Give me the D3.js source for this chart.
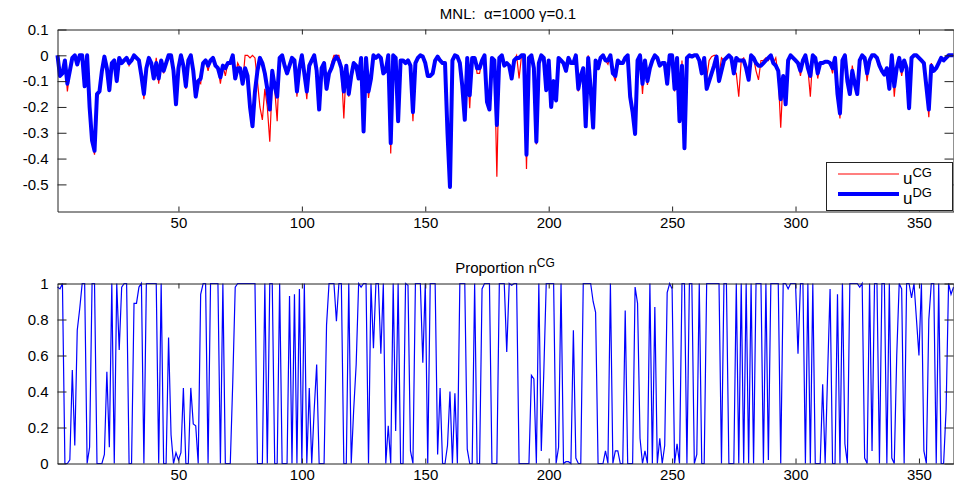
<!DOCTYPE html>
<html>
<head>
<meta charset="utf-8">
<script src="https://cdn.jsdelivr.net/npm/d3@7"></script>
<style>
body { margin: 0; background: #fff; }
text { font-family: "Liberation Sans", Arial, sans-serif; white-space: pre; }
</style>
</head>
<body>
<script>
// u^CG (red, thin)
var uCG = [
  0, -0.08, -0.07, -0.02, -0.14, -0.06, -0.01, 0, -0.035, 0,
  0, -0.12, 0, -0.2, -0.33, -0.385, -0.17, -0.14, -0.06, -0.005,
  -0.05, -0.135, -0.03, -0.02, -0.1, -0.01, -0.03, -0.02, -0.01, -0.04,
  -0.02, 0, -0.01, -0.02, -0.08, -0.17, -0.05, -0.01, -0.03, -0.09,
  -0.01, -0.11, -0.02, -0.07, -0.03, 0, 0, -0.06, -0.19, -0.05,
  0, -0.04, -0.13, -0.02, 0, -0.06, -0.16, -0.1, -0.11, -0.03,
  -0.02, -0.06, -0.02, -0.01, -0.04, -0.05, -0.11, -0.04, -0.08, -0.03,
  -0.03, 0, -0.09, -0.03, -0.05, -0.11, 0, 0, -0.01, 0,
  -0.01, -0.1, -0.2, -0.25, -0.13, -0.2, -0.335, -0.1, -0.13, -0.255,
  -0.01, 0, -0.04, -0.07, -0.04, -0.01, -0.02, -0.16, -0.05, 0,
  -0.07, -0.17, -0.04, -0.02, 0, -0.06, -0.215, -0.05, -0.03, -0.13,
  -0.07, -0.03, 0, 0, 0, -0.05, -0.245, -0.04, -0.16, -0.08,
  -0.03, -0.04, -0.09, -0.01, -0.295, -0.01, -0.165, -0.09, 0, -0.01,
  0, -0.01, -0.07, -0.06, 0, -0.38, 0, -0.01, -0.255, -0.02,
  -0.02, -0.03, -0.02, -0.04, -0.255, -0.03, -0.01, 0, -0.005, -0.03,
  -0.08, -0.08, -0.07, -0.02, -0.005, -0.02, -0.03, -0.03, -0.3, -0.51,
  -0.02, 0, -0.005, -0.03, -0.12, -0.25, -0.01, -0.205, -0.01, -0.01,
  -0.07, -0.07, -0.02, 0, -0.18, -0.21, -0.01, -0.02, -0.47, -0.01,
  0, -0.04, -0.03, -0.04, -0.09, -0.02, 0, -0.09, 0, 0,
  -0.44, -0.01, 0, -0.05, -0.345, -0.03, 0, -0.01, -0.135, -0.02,
  -0.2, -0.1, -0.18, -0.01, -0.02, -0.03, -0.065, -0.01, -0.03, -0.03,
  0, -0.14, -0.08, -0.05, -0.275, 0, -0.13, -0.28, -0.02, -0.05,
  -0.01, 0, -0.02, -0.035, 0, -0.07, -0.1, -0.02, -0.03, -0.03,
  -0.01, 0, -0.16, -0.22, -0.305, -0.02, 0, -0.15, -0.02, -0.115,
  -0.05, -0.02, 0, -0.01, -0.04, -0.03, -0.03, -0.11, 0, 0,
  -0.14, -0.01, -0.26, -0.02, -0.36, -0.01, 0, -0.005, 0, 0,
  -0.02, -0.07, -0.01, -0.09, -0.02, -0.005, 0, 0, -0.08, -0.01,
  -0.02, -0.01, 0, -0.01, -0.06, -0.07, -0.16, -0.02, -0.01, -0.05,
  -0.095, 0, -0.01, -0.06, -0.095, -0.02, -0.02, -0.01, -0.02, 0,
  -0.03, -0.01, -0.08, -0.28, -0.08, -0.195, -0.02, 0, -0.01, -0.02,
  -0.03, -0.08, -0.02, 0, -0.05, -0.16, 0, -0.01, -0.09, -0.03,
  -0.03, -0.025, -0.025, -0.03, -0.07, -0.01, -0.15, -0.245, -0.02, 0,
  -0.1, -0.15, -0.04, -0.11, -0.15, -0.02, 0, -0.01, -0.1, -0.02,
  0, 0, -0.01, -0.04, -0.06, -0.075, -0.05, -0.13, 0, -0.16,
  -0.05, -0.01, -0.08, -0.02, -0.05, -0.205, -0.01, 0, 0, -0.01,
  -0.02, -0.03, -0.12, -0.24, -0.03, -0.06, -0.05, -0.03, -0.01, -0.02,
  -0.01, 0, 0, 0
];

// u^DG (blue, thick)
var uDG = [
  0, -0.08, -0.07, -0.02, -0.11, -0.06, -0.01, 0, -0.035, 0,
  0, -0.12, 0, -0.2, -0.33, -0.37, -0.15, -0.14, -0.06, -0.005,
  -0.05, -0.135, -0.03, -0.02, -0.1, -0.01, -0.03, -0.02, -0.01, -0.03,
  -0.02, 0, -0.01, -0.02, -0.08, -0.15, -0.05, -0.01, -0.03, -0.09,
  -0.03, -0.09, -0.02, -0.06, -0.03, 0, 0, -0.06, -0.19, -0.05,
  0, -0.04, -0.12, -0.02, 0, -0.06, -0.16, -0.1, -0.09, -0.03,
  -0.02, -0.04, -0.02, -0.01, -0.04, -0.05, -0.085, -0.04, -0.05, -0.03,
  -0.03, 0, -0.09, -0.05, -0.05, -0.11, -0.05, -0.08, -0.2, -0.275,
  -0.14, -0.06, -0.01, -0.03, -0.07, -0.13, -0.21, -0.06, -0.12, -0.16,
  -0.01, 0, -0.04, -0.07, -0.04, -0.01, -0.02, -0.14, -0.05, 0,
  -0.07, -0.14, -0.04, -0.02, 0, -0.06, -0.21, -0.05, -0.03, -0.13,
  -0.07, -0.05, -0.02, -0.005, -0.02, -0.05, -0.14, -0.04, -0.15, -0.08,
  -0.03, -0.04, -0.09, -0.01, -0.295, -0.01, -0.14, -0.09, 0, -0.01,
  0, -0.01, -0.07, -0.06, 0, -0.34, 0, -0.01, -0.255, -0.02,
  -0.02, -0.03, -0.02, -0.04, -0.22, -0.03, -0.01, 0, -0.005, -0.03,
  -0.08, -0.08, -0.07, -0.02, -0.005, -0.02, -0.03, -0.03, -0.3, -0.51,
  -0.02, 0, -0.005, -0.03, -0.12, -0.25, -0.01, -0.155, -0.01, -0.01,
  -0.05, -0.05, -0.02, 0, -0.18, -0.21, -0.01, -0.02, -0.27, -0.01,
  0, -0.04, -0.03, -0.04, -0.09, -0.02, -0.01, -0.01, 0, 0,
  -0.385, -0.01, 0, -0.05, -0.335, -0.03, 0, -0.01, -0.135, -0.02,
  -0.2, -0.1, -0.175, -0.01, -0.02, -0.03, -0.06, -0.01, -0.03, -0.03,
  0, -0.13, -0.08, -0.05, -0.275, -0.01, -0.13, -0.28, -0.02, -0.05,
  -0.01, 0, -0.02, -0.02, 0, -0.07, -0.08, -0.02, -0.03, -0.03,
  -0.01, 0, -0.16, -0.22, -0.305, -0.02, 0, -0.11, -0.02, -0.1,
  -0.05, -0.02, 0, -0.01, -0.04, -0.03, -0.03, -0.11, 0, 0,
  -0.13, -0.01, -0.255, -0.04, -0.36, -0.01, 0, -0.005, 0, 0,
  -0.02, -0.07, -0.01, -0.13, -0.1, -0.07, -0.04, -0.005, -0.1, -0.06,
  -0.02, -0.01, 0, -0.01, -0.07, -0.01, -0.02, -0.02, -0.02, -0.05,
  -0.095, 0, -0.01, -0.03, -0.04, -0.04, -0.03, -0.02, -0.01, 0,
  -0.03, -0.04, -0.06, -0.17, -0.08, -0.19, -0.02, 0, -0.01, -0.02,
  -0.03, -0.06, -0.02, 0, -0.05, -0.08, 0, -0.01, -0.07, -0.03,
  -0.03, -0.025, -0.025, -0.03, -0.05, -0.01, -0.15, -0.225, -0.02, 0,
  -0.1, -0.15, -0.06, -0.11, -0.15, -0.02, 0, -0.01, -0.07, -0.02,
  0, 0, -0.01, -0.04, -0.06, -0.075, -0.05, -0.13, 0, -0.12,
  -0.05, -0.01, -0.06, -0.02, -0.05, -0.205, -0.01, 0, 0, -0.01,
  -0.02, -0.03, -0.12, -0.21, -0.04, -0.06, -0.05, -0.03, -0.01, -0.02,
  -0.01, 0, 0, 0
];

// proportion n^CG (bottom panel)
var propCG = [
  0.98, 0.97, 1, 0, 0, 0.02, 0.52, 0.1, 0.74, 0.86,
  1, 1, 0, 0.09, 1, 1, 0, 0, 0, 0.05,
  0.51, 0.09, 1, 0, 1, 0.63, 0.98, 1, 1, 0,
  0, 0.89, 0.89, 0.98, 1, 0, 1, 1, 1, 1,
  1, 0, 1, 0, 0, 0.7, 0.16, 0, 0.06, 0.02,
  0.06, 0.42, 0, 0, 0.42, 0.22, 0.21, 0, 0.94, 1,
  1, 0, 1, 1, 1, 1, 0, 1, 0, 0,
  0, 0.45, 0.98, 1, 1, 1, 1, 1, 1, 1,
  1, 0, 0, 0, 1, 0, 1, 1, 0, 0,
  1, 0, 0, 0, 0.93, 0, 0.94, 0, 0.97, 0,
  1, 0, 0.42, 0, 0.3, 0.55, 0, 0, 0, 0.77,
  1, 1, 1, 0.79, 1, 1, 0, 0, 1, 0,
  0.3, 0.55, 1, 0.98, 1, 1, 0, 1, 0.64, 1,
  1, 0.61, 1, 0, 0.21, 0, 1, 0.18, 1, 0,
  0, 1, 0.99, 0.07, 0, 1, 1, 1, 0.56, 1,
  0, 1, 1, 1, 0.05, 0.42, 0, 0, 0.1, 0.4,
  0, 0.39, 0, 1, 1, 1, 0.08, 0, 0, 1,
  0, 0, 0.97, 1, 1, 1, 0, 0, 0, 1,
  1, 1, 0.62, 1, 0.99, 1, 1, 0, 0, 0,
  0, 0, 0.49, 0.47, 0, 1, 0.07, 0.5, 1, 1,
  1, 1, 0, 0.09, 1, 0, 0.01, 0.01, 0, 0.74,
  0.03, 0, 0, 1, 1, 1, 1, 0.9, 0.84, 0,
  0, 0, 0.07, 0, 1, 0, 0.07, 0.07, 0, 0,
  0.85, 0, 0, 0, 0.98, 0.89, 0.14, 0, 0.07, 0,
  1, 0, 0.87, 0, 0.14, 0, 0.1, 0.95, 1, 0.97,
  0, 0.11, 0, 1, 1, 0, 1, 1, 0, 0.05,
  1, 0, 0, 1, 1, 1, 1, 1, 1, 0,
  1, 1, 0, 0, 0, 1, 0, 1, 0, 1,
  0, 1, 0, 1, 1, 1, 0, 1, 0.02, 1,
  1, 1, 1, 0, 1, 1, 0.97, 1, 1, 1,
  0.61, 1, 1, 0, 1, 0, 1, 0, 0, 0,
  0.44, 0, 0.5, 0.97, 0, 0, 0.94, 0, 1, 0.11,
  0, 1, 1, 1, 1, 0.98, 1, 0.03, 0, 1,
  0.07, 1, 1, 0, 1, 1, 0, 1, 0.03, 0,
  0.6, 1, 0.97, 0, 1, 1, 0.92, 1, 0.8, 0.6,
  1, 0.07, 0, 0.8, 1, 1, 0, 1, 0, 0,
  0.3, 1, 0.94, 0.98
];

var xTicks = [50, 100, 150, 200, 250, 300, 350];
var topYTicks = [0.1, 0, -0.1, -0.2, -0.3, -0.4, -0.5];
var botYTicks = [0, 0.2, 0.4, 0.6, 0.8, 1];

var width = 954, height = 487;

var svg = d3.select("body").append("svg")
    .attr("width", width)
    .attr("height", height)
    .style("background", "#fff");

var x = d3.scaleLinear().domain([1, 364]).range([57.5, 953.5]);
var yTop = d3.scaleLinear().domain([-0.605, 0.1]).range([211.5, 29.5]);
var yBot = d3.scaleLinear().domain([0, 1]).range([463.5, 283.5]);

var fmt = function(d) { return d === 0 ? "0" : String(+d.toFixed(1)); };

//draw box, ticks and labels for one panel
function drawAxes(y, yTicks) {
    var r = y.range();
    var g = svg.append("g");

    g.append("g")
        .attr("transform", "translate(0," + r[0] + ")")
        .call(d3.axisBottom(x).tickValues(xTicks).tickSizeInner(-5).tickSizeOuter(0).tickPadding(6));
    g.append("g")
        .attr("transform", "translate(0," + r[1] + ")")
        .call(d3.axisTop(x).tickValues(xTicks).tickSizeInner(-5).tickSizeOuter(0).tickFormat(""));
    g.append("g")
        .attr("transform", "translate(" + x.range()[0] + ",0)")
        .call(d3.axisLeft(y).tickValues(yTicks).tickSizeInner(-9).tickSizeOuter(0).tickPadding(9).tickFormat(fmt));
    g.append("g")
        .attr("transform", "translate(" + x.range()[1] + ",0)")
        .call(d3.axisRight(y).tickValues(yTicks).tickSizeInner(-9).tickSizeOuter(0).tickFormat(""));

    g.selectAll(".domain").attr("stroke", "#222");
    g.selectAll(".tick line").attr("stroke", "#222");
    g.selectAll(".tick text").attr("font-size", 15).attr("fill", "#000")
        .attr("font-family", "Liberation Sans, Arial, sans-serif");
    return g;
}

// top panel
var lineTop = d3.line()
    .x(function(d, i) { return x(i + 1); })
    .y(function(d) { return yTop(d); });

svg.append("path")
    .datum(uCG)
    .attr("d", lineTop)
    .attr("fill", "none")
    .attr("stroke", "#ff0000")
    .attr("stroke-width", 1.2);

svg.append("path")
    .datum(uDG)
    .attr("d", lineTop)
    .attr("fill", "none")
    .attr("stroke", "#0000ff")
    .attr("stroke-width", 4)
    .attr("stroke-linejoin", "round");

drawAxes(yTop, topYTicks);

svg.append("text")
    .attr("x", 508).attr("y", 19)
    .attr("text-anchor", "middle")
    .attr("font-size", 15)
    .text("MNL:  \u03b1=1000 \u03b3=0.1");

// legend
var leg = svg.append("g");
leg.append("rect")
    .attr("x", 826.5).attr("y", 162.5)
    .attr("width", 126).attr("height", 48)
    .attr("fill", "#fff").attr("stroke", "#222");
leg.append("line")
    .attr("x1", 838).attr("x2", 899).attr("y1", 174).attr("y2", 174)
    .attr("stroke", "#ff0000").attr("stroke-width", 1.2);
leg.append("line")
    .attr("x1", 838).attr("x2", 899).attr("y1", 194).attr("y2", 194)
    .attr("stroke", "#0000ff").attr("stroke-width", 4);
var labels = [["CG", 184], ["DG", 204]];
labels.forEach(function(l) {
    var t = leg.append("text").attr("x", 903).attr("y", l[1]).attr("font-size", 17);
    t.append("tspan").text("u");
    t.append("tspan").attr("dy", -7).attr("font-size", 13).text(l[0]);
});

// bottom panel
var lineBot = d3.line()
    .x(function(d, i) { return x(i + 1); })
    .y(function(d) { return yBot(d); });

svg.append("path")
    .datum(propCG)
    .attr("d", lineBot)
    .attr("fill", "none")
    .attr("stroke", "#0000ff")
    .attr("stroke-width", 1.2);

drawAxes(yBot, botYTicks);

var t2 = svg.append("text")
    .attr("x", 505).attr("y", 273)
    .attr("text-anchor", "middle")
    .attr("font-size", 15);
t2.append("tspan").text("Proportion n");
t2.append("tspan").attr("dy", -6).attr("font-size", 12).text("CG");
</script>
</body>
</html>
